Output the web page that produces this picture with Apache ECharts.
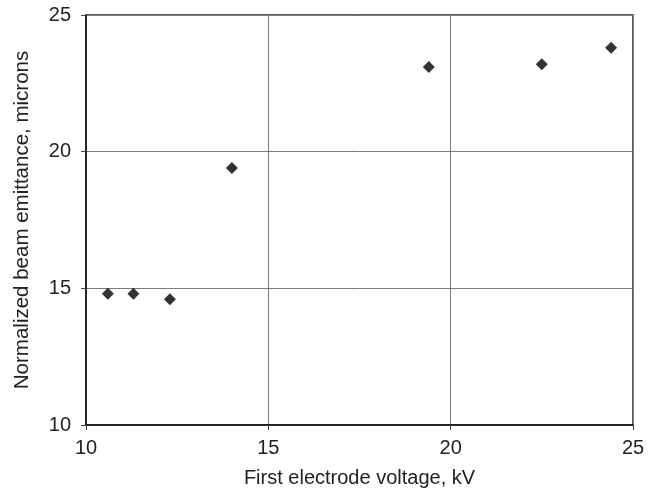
<!DOCTYPE html>
<html>
<head>
<meta charset="utf-8">
<script src="https://cdn.jsdelivr.net/npm/echarts@6/dist/echarts.min.js"></script>
<style>
  html, body { margin: 0; padding: 0; background: #fff; }
  #chart { width: 661px; height: 493px; }
</style>
</head>
<body>
<div id="chart"></div>
<script>
  // first electrode voltage (kV) and normalized emittance (microns)
  const voltage = [10.6, 11.3, 12.3, 14.0, 19.4, 22.5, 24.4];
  const emittance = [14.8, 14.8, 14.6, 19.4, 23.1, 23.2, 23.8];

  const points = voltage.map((v, i) => [v, emittance[i]]);

  const chart = echarts.init(document.getElementById('chart'));
  const font = 'Liberation Sans, Arial, sans-serif';

  chart.setOption({
    animation: false,
    grid: {
      left: 86,
      right: 28,
      top: 15,
      bottom: 67,
      show: true,
      borderColor: '#222',
      borderWidth: 1.5
    },
    xAxis: {
      type: 'value',
      min: 10,
      max: 25,
      interval: 5,
      name: 'First electrode voltage, kV',
      nameLocation: 'middle',
      nameGap: 43,
      nameTextStyle: { color: '#222', fontSize: 20, fontFamily: font },
      axisLine: { lineStyle: { color: '#111', width: 1.5 } },
      axisTick: { show: true, length: 5, lineStyle: { color: '#444' } },
      axisLabel: { color: '#222', fontSize: 20, fontFamily: font, margin: 13 },
      splitLine: { show: true, lineStyle: { color: '#7a7a7a', width: 1 } }
    },
    yAxis: {
      type: 'value',
      min: 10,
      max: 25,
      interval: 5,
      name: 'Normalized beam emittance, microns',
      nameLocation: 'middle',
      nameGap: 53,
      nameTextStyle: { color: '#222', fontSize: 20.5, fontFamily: font },
      axisLine: { show: true, lineStyle: { color: '#111', width: 1.5 } },
      axisTick: { show: true, length: 5, lineStyle: { color: '#444' } },
      axisLabel: { color: '#222', fontSize: 20, fontFamily: font, margin: 15 },
      splitLine: { show: true, lineStyle: { color: '#7a7a7a', width: 1 } }
    },
    series: [{
      type: 'scatter',
      symbol: 'diamond',
      symbolSize: 12,
      itemStyle: { color: '#000' },
      data: points
    }]
  });
</script>
</body>
</html>
